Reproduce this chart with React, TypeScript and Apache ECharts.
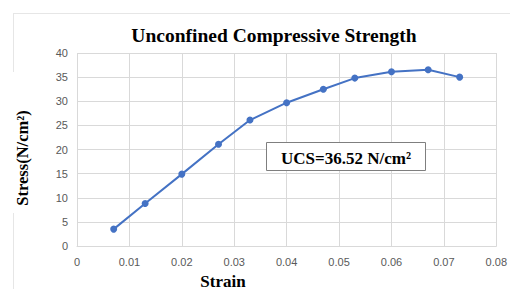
import React, { useEffect, useRef } from "react";
import * as echarts from "echarts";

const strain = [0.007, 0.013, 0.02, 0.027, 0.033, 0.04, 0.047, 0.053, 0.06, 0.067, 0.073];
const stress = [3.5, 8.8, 14.9, 21.1, 26.1, 29.7, 32.5, 34.8, 36.1, 36.52, 35.0];
const titleText = "Unconfined Compressive Strength";
const xName = "Strain";
const yName = "Stress(N/cm²)";
const ucsLabel = "UCS=36.52 N/cm²";

export default function App() {
  const ref = useRef<HTMLDivElement>(null);
  useEffect(() => {
    if (!ref.current) return;
    const chart = echarts.init(ref.current, null, { renderer: "svg" });
    const serif = "'Liberation Serif', 'Times New Roman', serif";
    const sans = "'Liberation Sans', Arial, sans-serif";
    chart.setOption({
      animation: false,
      backgroundColor: "#ffffff",
      grid: { left: 77, right: 10, top: 53, bottom: 43, containLabel: false },
      xAxis: {
        type: "value",
        min: 0,
        max: 0.08,
        interval: 0.01,
        axisLine: { show: true, lineStyle: { color: "#d9d9d9", width: 1 } },
        axisTick: { show: false },
        splitLine: { show: true, lineStyle: { color: "#d9d9d9", width: 1 } },
        axisLabel: { color: "#595959", fontSize: 11, fontFamily: sans, margin: 10, showMaxLabel: true },
      },
      yAxis: {
        type: "value",
        min: 0,
        max: 40,
        interval: 5,
        axisLine: { show: false },
        axisTick: { show: false },
        splitLine: { show: true, lineStyle: { color: "#d9d9d9", width: 1 } },
        axisLabel: { color: "#595959", fontSize: 11, fontFamily: sans, margin: 9 },
      },
      series: [
        {
          type: "line",
          data: strain.map((s, i) => [s, stress[i]]),
          symbol: "circle",
          symbolSize: 7,
          lineStyle: { color: "#4472C4", width: 2 },
          itemStyle: { color: "#4472C4" },
        },
      ],
      graphic: [
        { type: "line", shape: { x1: 13, y1: 13.5, x2: 510, y2: 13.5 }, style: { stroke: "#e6e6e6", lineWidth: 1 } },
        { type: "line", shape: { x1: 13.5, y1: 13, x2: 13.5, y2: 72 }, style: { stroke: "#e6e6e6", lineWidth: 1 } },
        { type: "line", shape: { x1: 13.5, y1: 213, x2: 13.5, y2: 289 }, style: { stroke: "#e6e6e6", lineWidth: 1 } },
        {
          type: "text",
          x: 274,
          y: 35,
          style: { text: titleText, font: `bold 19.5px ${serif}`, fill: "#000", align: "center", verticalAlign: "middle" },
        },
        {
          type: "text",
          x: 223,
          y: 281,
          style: { text: xName, font: `bold 17px ${serif}`, fill: "#000", align: "center", verticalAlign: "middle" },
        },
        {
          type: "text",
          x: 22,
          y: 158,
          rotation: Math.PI / 2,
          style: { text: yName, font: `bold 16.5px ${serif}`, fill: "#000", align: "center", verticalAlign: "middle" },
        },
        {
          type: "rect",
          shape: { x: 266.5, y: 142.5, width: 159, height: 28 },
          style: { fill: "#ffffff", stroke: "#7f7f7f", lineWidth: 1 },
          z: 100,
        },
        {
          type: "text",
          x: 346,
          y: 158,
          z: 101,
          style: { text: ucsLabel, font: `bold 17px ${serif}`, fill: "#000", align: "center", verticalAlign: "middle" },
        },
      ],
    });
    return () => chart.dispose();
  }, []);
  return <div ref={ref} style={{ position: "fixed", left: 0, top: 0, width: 510, height: 289 }} />;
}
